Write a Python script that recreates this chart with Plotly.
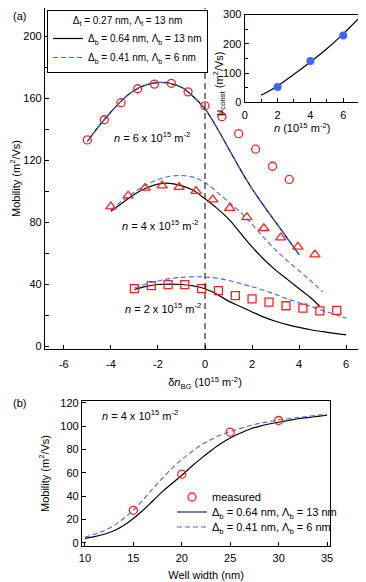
import plotly.graph_objects as go

FONT = "Arial, Liberation Sans, sans-serif"
RED = "#ff2020"
BLUE = "#3d66ff"

# page body adds an 8px margin, so the figure is drawn 8px smaller
W, H = 358, 574

# ---- panel (a): measured mobility vs delta n_BG ----
n6_x = [-5.0, -4.28, -3.57, -2.86, -2.15, -1.43, -0.72, 0.0, 0.72, 1.43, 2.15, 2.87, 3.58]
n6_y = [133, 146, 157, 166, 169, 169.5, 164, 155, 148, 137, 127, 116, 107.5]
n4_x = [-4.0, -3.27, -2.55, -1.82, -1.1, -0.38, 0.33, 1.05, 1.78, 2.5, 3.22, 3.95, 4.67]
n4_y = [90, 97, 102, 103.5, 102.5, 100, 94.5, 89, 83, 76, 70, 64, 59]
n2_x = [-3.0, -2.28, -1.57, -0.86, -0.14, 0.57, 1.29, 2.0, 2.72, 3.44, 4.16, 4.88, 5.6]
n2_y = [37, 39, 39.6, 39.6, 37, 35.7, 32.5, 30.5, 28.3, 26, 24.5, 22.7, 23]

# model curves, panel (a)
c6_x = [-5, -4.5, -4, -3.5, -3, -2.5, -2, -1.5, -1, -0.5, 0, 0.5, 1, 1.5, 2, 2.5, 3, 3.5, 4]
c6_y = [132, 142, 151, 159, 165, 168.5, 170, 169.5, 167, 161, 153, 141, 127.5, 114, 101.5, 90.5, 80, 69.5, 59]
c4_x = [-4, -3.5, -3, -2.5, -2, -1.5, -1, -0.5, 0, 0.5, 1, 1.5, 2, 2.5, 3, 3.5, 4, 4.5, 4.88]
c4_black = [87, 92.5, 98, 102, 104.5, 105, 103.5, 100.5, 95, 89, 82, 73, 64, 56, 49, 43, 37, 31, 25.5]
c4b_x = [-4, -3.5, -3, -2.5, -2, -1.5, -1, -0.5, 0, 0.5, 1, 1.5, 2, 2.5, 3, 3.5, 4, 4.5, 5]
c4_blue = [88, 94, 99.5, 104, 107.5, 109.5, 110, 109, 105.5, 99.5, 93, 86.5, 78.5, 70, 62, 55, 48.5, 42, 35]
c2_x = [-3, -2.5, -2, -1.5, -1, -0.5, 0, 0.5, 1, 1.5, 2, 2.5, 3, 3.5, 4, 4.5, 5, 5.5, 6]
c2_black = [36.5, 38.5, 39.7, 40, 39.7, 38.8, 37, 33.5, 29, 25.5, 22, 18.7, 16, 13.8, 12, 10.5, 9.3, 8.2, 7.2]
c2_blue = [37.5, 40, 42, 43.5, 44.3, 44.7, 44.6, 43.8, 42.3, 40.3, 38.3, 36, 33.3, 30.5, 28, 25.5, 23, 20.5, 18]

# inset: mu_const vs n
inset_n = [2, 4, 6]
inset_mu = [52, 141, 228]
inset_fit_n = [1, 2, 3, 4, 5, 6, 7]
inset_fit_mu = [24, 56, 96, 138, 183, 234, 290]

# ---- panel (b): mobility vs well width ----
ww_meas = [15, 20, 25, 30]
mob_meas = [28, 59, 95, 105]
ww = [10, 11, 12, 13, 14, 15, 16, 17, 18, 19, 20, 21, 22, 23, 24, 25, 26, 27, 28, 29, 30, 31, 32, 33, 34, 35]
mob_black = [4, 5.5, 7.5, 10.5, 15, 21, 28, 36, 44, 51, 58, 65.5, 72.5, 79, 85, 90, 94, 97.5, 100, 102, 103.5, 105,
             106.5, 107.5, 108.5, 109.5]
mob_blue = [5, 7.5, 10.5, 15, 21, 28, 37, 46.5, 55.5, 64, 71.5, 78, 84, 88.5, 92.5, 95.5, 98, 100.5, 102.5, 104,
            105.5, 106.5, 107.5, 108.5, 109.5, 110.5]

LABEL_BLACK = "Δ<sub>b</sub> = 0.64 nm, Λ<sub>b</sub> = 13 nm"
LABEL_BLUE = "Δ<sub>b</sub> = 0.41 nm, Λ<sub>b</sub> = 6 nm"
LABEL_T = "Δ<sub>t</sub> = 0.27 nm, Λ<sub>t</sub> = 13 nm"


def px(x):
    return x / W


def py(y):
    return 1 - y / H


fig = go.Figure()

black_line = dict(color="black", width=1.2, shape="spline")
blue_line = dict(color=BLUE, width=1.1, dash="5px,3px", shape="spline")

# model curves (a)
fig.add_trace(go.Scatter(x=c6_x, y=c6_y, mode="lines", line=black_line, name=LABEL_BLACK,
                         legend="legend", showlegend=True))
fig.add_trace(go.Scatter(x=c6_x, y=c6_y, mode="lines", line=blue_line, name=LABEL_BLUE,
                         legend="legend", showlegend=True))
fig.add_trace(go.Scatter(x=c4_x, y=c4_black, mode="lines", line=black_line, showlegend=False))
fig.add_trace(go.Scatter(x=c4b_x, y=c4_blue, mode="lines", line=blue_line, showlegend=False))
fig.add_trace(go.Scatter(x=c2_x, y=c2_black, mode="lines", line=black_line, showlegend=False))
fig.add_trace(go.Scatter(x=c2_x, y=c2_blue, mode="lines", line=blue_line, showlegend=False))

# measured (a)
fig.add_trace(go.Scatter(x=n6_x, y=n6_y, mode="markers", showlegend=False,
                         marker=dict(symbol="circle-open", size=8, color=RED, line=dict(width=1.3))))
fig.add_trace(go.Scatter(x=n4_x, y=n4_y, mode="markers", showlegend=False,
                         marker=dict(symbol="triangle-up-open", size=9, color=RED, line=dict(width=1.3))))
fig.add_trace(go.Scatter(x=n2_x, y=n2_y, mode="markers", showlegend=False,
                         marker=dict(symbol="square-open", size=8, color=RED, line=dict(width=1.3))))

# inset
fig.add_trace(go.Scatter(x=inset_fit_n, y=inset_fit_mu, mode="lines", xaxis="x3", yaxis="y3",
                         line=dict(color="black", width=1.2, shape="spline"), showlegend=False))
fig.add_trace(go.Scatter(x=inset_n, y=inset_mu, mode="markers", xaxis="x3", yaxis="y3",
                         marker=dict(size=8, color=BLUE), showlegend=False))

# panel (b), one legend per row so the rows sit where the reference has them
fig.add_trace(go.Scatter(x=ww, y=mob_black, mode="lines", xaxis="x2", yaxis="y2", line=black_line,
                         name=LABEL_BLACK, legend="legend3"))
fig.add_trace(go.Scatter(x=ww, y=mob_blue, mode="lines", xaxis="x2", yaxis="y2", line=blue_line,
                         name=LABEL_BLUE, legend="legend4"))
fig.add_trace(go.Scatter(x=ww_meas, y=mob_meas, mode="markers", xaxis="x2", yaxis="y2", name="measured",
                         legend="legend2",
                         marker=dict(symbol="circle-open", size=8, color=RED, line=dict(width=1.3))))

axis_common = dict(showline=True, linecolor="black", linewidth=1.2, mirror=True, ticks="inside",
                   ticklen=4, tickwidth=1, tickcolor="black", showgrid=False, zeroline=False,
                   automargin=False, ticklabeloverflow="allow", tickfont=dict(size=11, color="black"))

xa_ticks = [-6, -4, -2, 0, 2, 4, 6]

row_legend = dict(xanchor="left", yanchor="middle", bgcolor="rgba(0,0,0,0)", borderwidth=0,
                  itemwidth=30, font=dict(size=11))

fig.update_layout(
    width=W, height=H,
    margin=dict(l=0, r=0, t=0, b=0),
    paper_bgcolor="white", plot_bgcolor="white",
    font=dict(family=FONT, size=11, color="black"),
    xaxis=dict(axis_common, domain=[px(37), px(357)], range=[-6.8, 6.8], anchor="y",
               tickvals=xa_ticks, ticktext=[str(v) for v in xa_ticks], ticklabelstandoff=5,
               title=dict(text="δ<i>n</i><sub>BG</sub> (10<sup>15</sup> m<sup>-2</sup>)", standoff=9,
                          font=dict(size=11))),
    yaxis=dict(axis_common, domain=[py(341), py(0)], range=[-1.9, 218.1], anchor="x",
               dtick=40, minor=dict(dtick=20, ticks="inside", ticklen=4, tickcolor="black"),
               title=dict(text="Mobility (m<sup>2</sup>/Vs)", standoff=8, font=dict(size=11))),
    xaxis2=dict(axis_common, domain=[px(74), px(322)], range=[9.7, 35.3], anchor="y2", dtick=5,
                ticklabelstandoff=2,
                title=dict(text="Well width (nm)", standoff=8, font=dict(size=11))),
    yaxis2=dict(axis_common, domain=[py(538), py(393)], range=[-2.6, 121.7], anchor="x2",
                dtick=20, title=dict(text="Mobility (m<sup>2</sup>/Vs)", standoff=8, font=dict(size=11))),
    xaxis3=dict(axis_common, domain=[px(236.7), px(351.7)], range=[0, 7], anchor="y3", dtick=2,
                minor=dict(dtick=1, ticks="inside", ticklen=3, tickcolor="black"), ticklabelstandoff=2,
                title=dict(text="<i>n</i> (10<sup>15</sup> m<sup>-2</sup>)", standoff=2, font=dict(size=11))),
    yaxis3=dict(axis_common, domain=[py(94.3), py(6.5)], range=[0, 300], anchor="x3",
                dtick=100, minor=dict(dtick=50, ticks="inside", ticklen=3, tickcolor="black")),
    legend=dict(x=px(39), y=py(2), xanchor="left", yanchor="top", bgcolor="white",
                bordercolor="black", borderwidth=1, itemwidth=30, font=dict(size=10),
                title=dict(text=LABEL_T, side="top center", font=dict(size=10)),
                tracegroupgap=0),
    legend2=dict(row_legend, x=px(164), y=py(489)),
    legend3=dict(row_legend, x=px(164), y=py(504)),
    legend4=dict(row_legend, x=px(164), y=py(519)),
)

fig.add_vline(x=0, line=dict(color="black", width=1, dash="6px,4px"), xref="x", yref="y")

notes = [
    ("a", -3.96, 134.8, "<i>n</i> = 6 x 10<sup>15</sup> m<sup>-2</sup>"),
    ("a", -3.62, 78, "<i>n</i> = 4 x 10<sup>15</sup> m<sup>-2</sup>"),
    ("a", -3.49, 24.5, "<i>n</i> = 2 x 10<sup>15</sup> m<sup>-2</sup>"),
    ("b", 11.55, 110, "<i>n</i> = 4 x 10<sup>15</sup> m<sup>-2</sup>"),
]
for panel, x, y, text in notes:
    ref = ("x", "y") if panel == "a" else ("x2", "y2")
    fig.add_annotation(x=x, y=y, xref=ref[0], yref=ref[1], text=text, showarrow=False,
                       xanchor="left", font=dict(size=11))

# inset y title, placed by hand so it clears the tick labels
fig.add_annotation(x=px(211), y=py(42), xref="paper", yref="paper", textangle=-90, showarrow=False,
                   text="μ<sub>const</sub> (m<sup>2</sup>/Vs)", font=dict(size=11))

fig.add_annotation(x=px(3), y=1, xref="paper", yref="paper", text="(a)", showarrow=False,
                   xanchor="left", yanchor="top", font=dict(size=11))
fig.add_annotation(x=px(3), y=py(395), xref="paper", yref="paper", text="(b)", showarrow=False,
                   xanchor="left", yanchor="middle", font=dict(size=11))

fig.write_html("out.html")
